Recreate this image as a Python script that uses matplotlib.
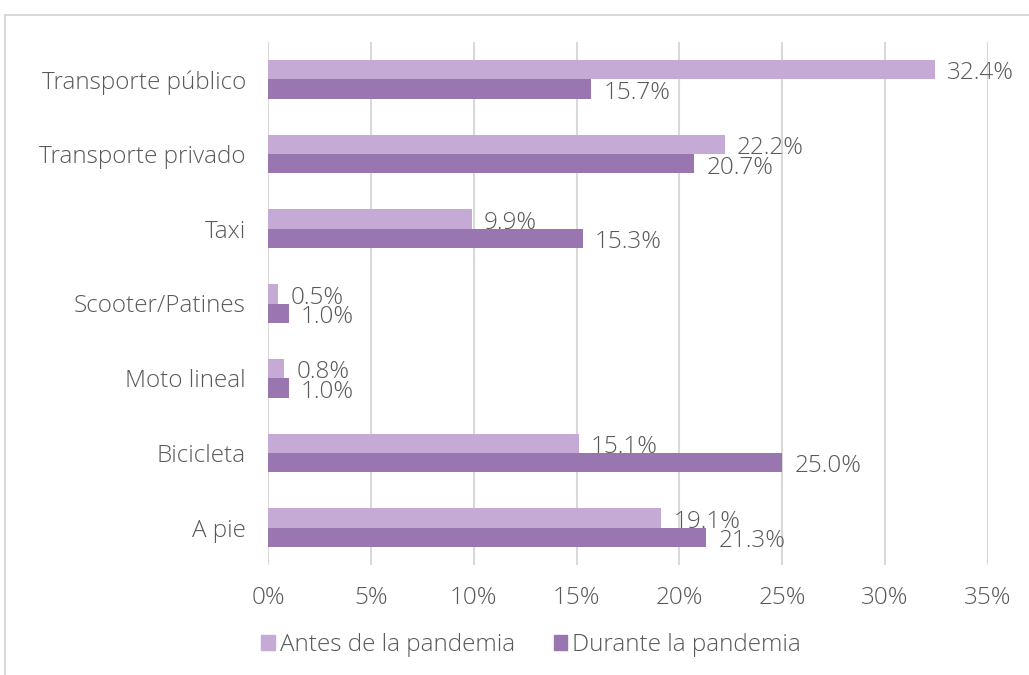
import matplotlib
matplotlib.use("Agg")
import matplotlib.pyplot as plt
from matplotlib.patches import Rectangle
from matplotlib.lines import Line2D
import numpy as np

categories = ["Transporte público", "Transporte privado", "Taxi", "Scooter/Patines",
              "Moto lineal", "Bicicleta", "A pie"]
antes = [32.4, 22.2, 9.9, 0.5, 0.8, 15.1, 19.1]
durante = [15.7, 20.7, 15.3, 1.0, 1.0, 25.0, 21.3]
series_names = ["Antes de la pandemia", "Durante la pandemia"]
xticks = [0, 5, 10, 15, 20, 25, 30, 35]

c_antes = "#C4AAD5"
c_durante = "#9A76B0"
txt = "#595959"
grid = "#D9D9D9"

plt.rcParams['font.family'] = ['Open Sans', 'DejaVu Sans']
plt.rcParams['font.weight'] = 'light'
FS = 17.5

fig = plt.figure(figsize=(10.29, 6.75), dpi=100)
ax = fig.add_axes([268/1029, 1-565/675, 720/1029, 523/675])

n = len(categories)
y = np.arange(n)
h = 0.26
ax.barh(y - h/2, antes, height=h, color=c_antes, label=series_names[0], zorder=3)
ax.barh(y + h/2, durante, height=h, color=c_durante, label=series_names[1], zorder=3)

for i in range(n):
    ax.text(antes[i] + 0.6, y[i] - h/2 + 0.05, f"{antes[i]:.1f}%", va="center", ha="left",
            fontsize=FS, color=txt, zorder=4, fontweight='light')
    ax.text(durante[i] + 0.6, y[i] + h/2 + 0.05, f"{durante[i]:.1f}%", va="center", ha="left",
            fontsize=FS, color=txt, zorder=4, fontweight='light')

ax.set_xlim(0, 35)
ax.set_ylim(n - 0.5, -0.5)
ax.set_xticks(xticks)
ax.set_xticklabels([f"{v}%" for v in xticks])
ax.set_yticks(y)
ax.set_yticklabels(categories)
ax.tick_params(axis="both", length=0, labelsize=FS, labelcolor=txt)
ax.tick_params(axis="x", pad=15)
ax.tick_params(axis="y", pad=16)
ax.xaxis.grid(True, color=grid, linewidth=1.5, zorder=0)
ax.yaxis.grid(False)
for s in ax.spines.values():
    s.set_visible(False)

handles = [Rectangle((0, 0), 1, 1, color=c_antes), Rectangle((0, 0), 1, 1, color=c_durante)]
fig.legend(handles, series_names, loc="center", bbox_to_anchor=(531/1029, 1-645/675),
           ncol=2, frameon=False, fontsize=FS, labelcolor=txt, handlelength=0.55,
           handleheight=0.55, handletextpad=0.2, columnspacing=1.6)

# chart border
fig.add_artist(Line2D([5/1029, 5/1029], [0, 1-15/675], transform=fig.transFigure, color=grid, lw=1.5))
fig.add_artist(Line2D([5/1029, 1], [1-15/675, 1-15/675], transform=fig.transFigure, color=grid, lw=1.5))

fig.savefig("out.png", dpi=100)
